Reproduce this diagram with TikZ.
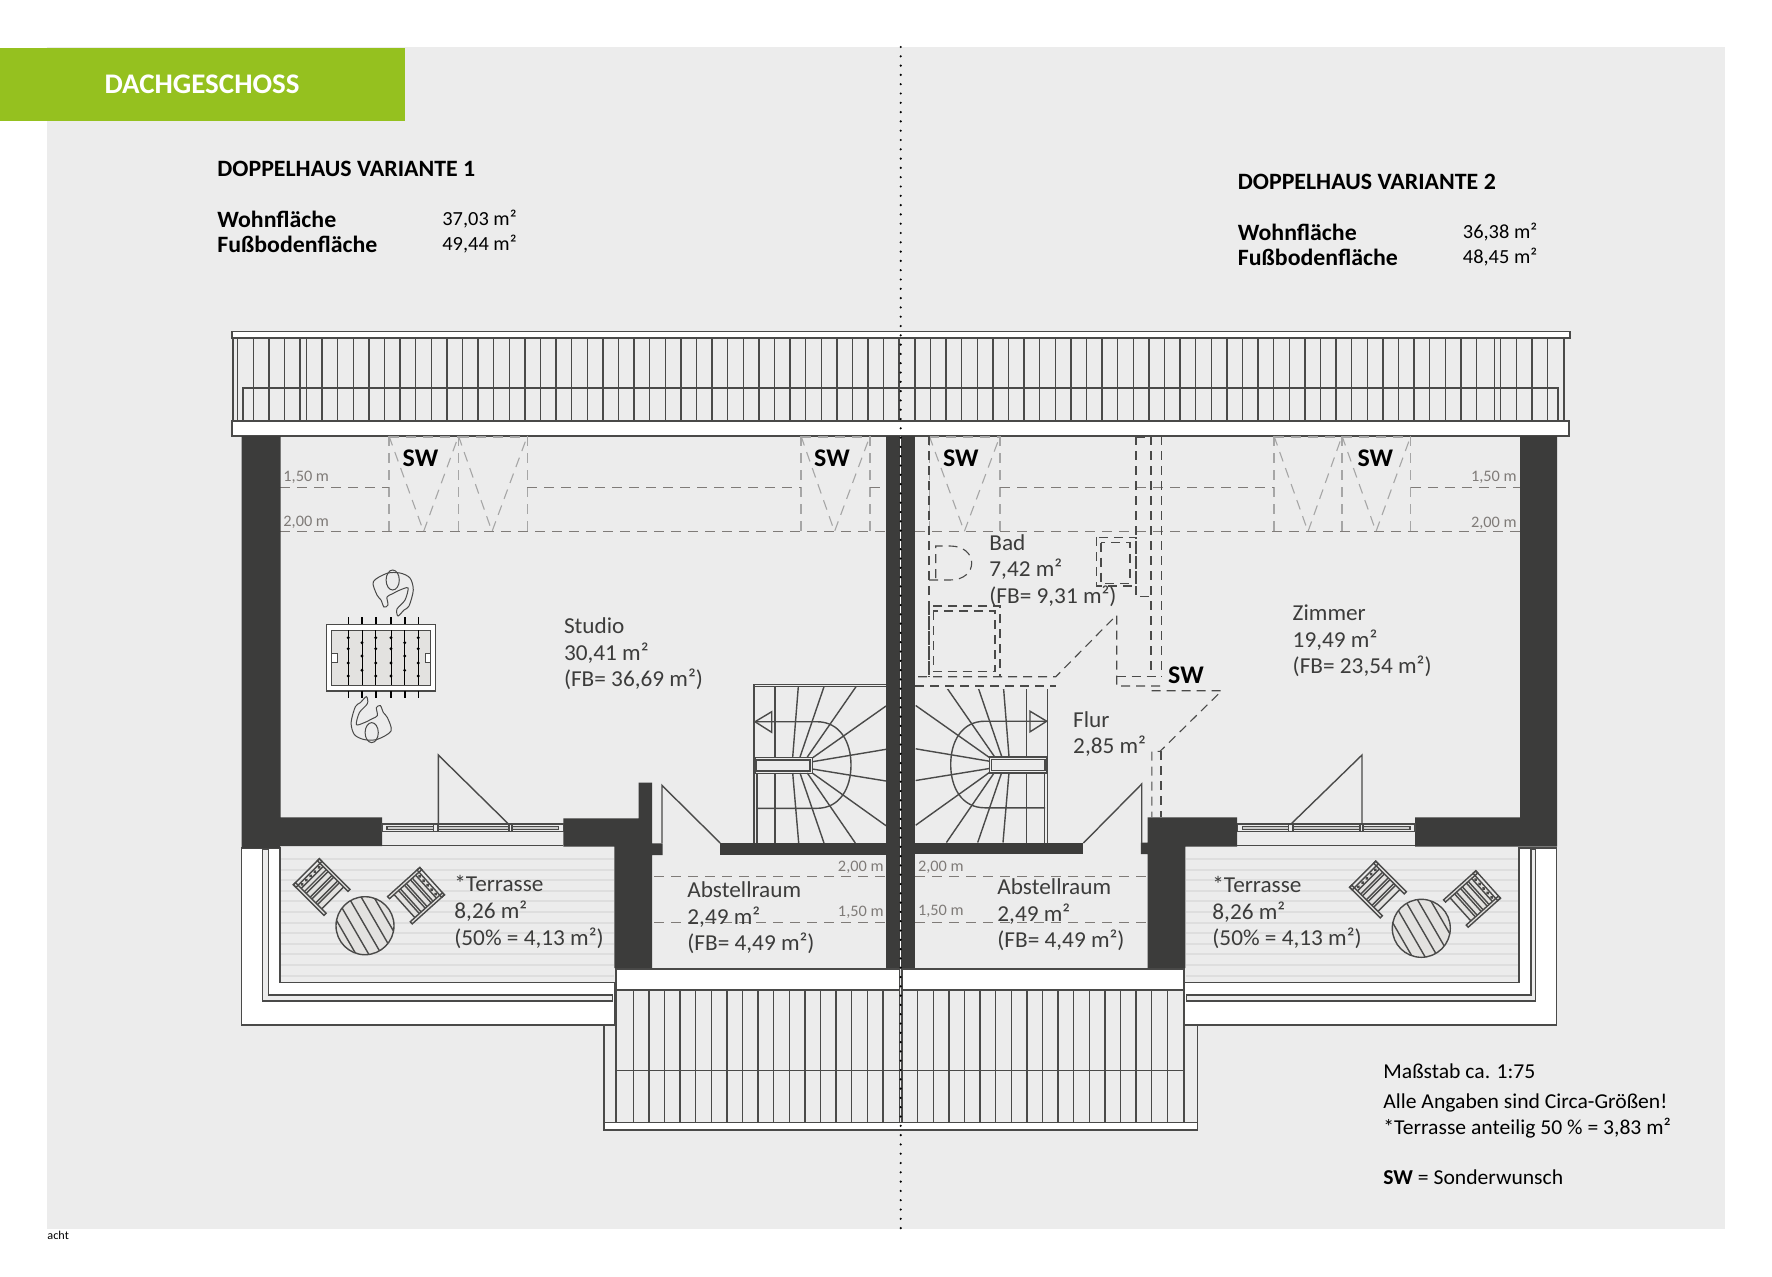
\documentclass[tikz,border=0pt]{standalone}
\usepackage{fontspec}
\setmainfont[FakeStretch=1.02]{Carlito}
\definecolor{pagegray}{HTML}{ECECEC}
\definecolor{wallgray}{HTML}{3C3C3B}
\definecolor{linegray}{HTML}{4A4A49}
\definecolor{dashgray}{HTML}{7F7B78}
\definecolor{softgray}{HTML}{A6A6A6}
\definecolor{floorgray}{HTML}{DEDEDE}
\definecolor{tablegray}{HTML}{E3E2E0}
\definecolor{bannergreen}{HTML}{95C11F}
\tikzset{
  wall/.style={fill=wallgray,draw=none},
  plan/.style={draw=linegray,line width=0.7pt},
  planwhite/.style={plan,fill=white},
  dashedline/.style={draw=dashgray,line width=0.55pt,dash pattern=on 5pt off 3.5pt},
  softdash/.style={draw=softgray,line width=0.55pt,dash pattern=on 5pt off 3.5pt},
  bathdash/.style={draw=linegray,line width=0.55pt,dash pattern=on 4.5pt off 3pt},
  roomlbl/.style={anchor=west,align=left,inner sep=0pt,text=wallgray,font=\fontsize{11.4}{13.3}\selectfont},
  heightlbl/.style={inner sep=0pt,text=dashgray,font=\fontsize{8}{9}\selectfont},
  swlbl/.style={inner sep=0pt,text=black,font=\fontsize{12.7}{14}\selectfont\bfseries},
  headlbl/.style={anchor=west,inner sep=0pt,text=black,font=\fontsize{11.7}{13}\selectfont\bfseries},
  valuelbl/.style={anchor=west,inner sep=0pt,text=black,font=\fontsize{10}{13}\selectfont},
  notelbl/.style={anchor=west,inner sep=0pt,text=black,font=\fontsize{10.6}{13}\selectfont},
}
% one half of the winding stair, drawn for the left house
\newcommand{\windingstair}{
  \draw[plan] (754,843) -- (754,684.3) -- (886,684.3);
  \draw[plan] (754,686.7) -- (886,686.7);
  \draw[plan] (757,773) -- (757,843);
  \foreach \xa/\ya/\xb/\yb in {775/686.7/775/757, 775/773/775/843,
    798.3/686.7/792.7/757, 824/686.7/800/757, 856/686.7/807.3/757,
    886/706/812.3/758, 886/749.3/812.3/761.7, 886/781/812.3/769, 886/825.7/812.3/773,
    855.3/843/807.3/773, 824/843/800/773, 798.7/843/792.7/773}
    \draw[plan] (\xa,\ya) -- (\xb,\yb);
  \draw[plan] (755,757.3) rectangle (812.3,773.3);
  \draw[plan] (756.7,760) rectangle (810,771);
  \draw[plan] (771.7,711.7) -- (755,721.7) -- (771.7,732.3) -- cycle;
  \draw[plan] (755,721.7) -- (816.7,721.7) .. controls (840,721.7) and (851,742) .. (851,765)
    .. controls (851,788) and (840,808.3) .. (816.7,808.3) -- (756.7,808.3);
}
% garden chair, seen from above, back at the top
\newcommand{\gardenchair}[3]{
  \begin{scope}[shift={(#1,#2)},rotate=#3]
    \fill[tablegray] (-16,-19) rectangle (16,16);
    \draw[plan,fill=tablegray] (-18.4,-21.7) rectangle (-15.5,21.7);
    \draw[plan,fill=tablegray] (15.5,-21.7) rectangle (18.4,21.7);
    \draw[plan] (-18.4,-21.7) rectangle (18.4,-18);
    \draw[plan] (-15.5,-13.5) -- (15.5,-13.5);
    \foreach \xd in {-12,-6,0,6,12}
      \fill[linegray] (\xd,-15.7) circle [radius=0.9pt];
    \foreach \ys in {-9,-1,7}{
      \draw[plan] (-15.5,\ys) -- (15.5,\ys);
      \draw[plan] (-15.5,\ys+2.5) -- (15.5,\ys+2.5);
    }
    \draw[plan] (-15.5,15.5) -- (15.5,15.5);
  \end{scope}
}
\newcommand{\player}{
  \draw[plan,line width=0.5pt] plot[smooth cycle] coordinates {(373.3,581.7) (387,573.3) (400,573) (410,578) (413.3,590) (409,606) (404,610) (398,616) (397,609) (405,600) (408,588) (400,590) (392,594) (387,597) (388,605) (384,607) (381,600) (377,595)};
  \draw[plan,line width=0.5pt] (392.7,580) ellipse [x radius=3.3pt,y radius=5pt];
}
\begin{document}
\begin{tikzpicture}[x=0.5pt,y=-0.5pt]
\useasboundingbox (0,0) rectangle (1772,1276);

\fill[pagegray] (47,47) rectangle (1725,1229);
\fill[bannergreen] (0,48) rectangle (405,121);
\node[inner sep=0pt,text=white,font=\fontsize{14.2}{15}\selectfont\bfseries] (banner) at (202,84) {DACHGESCHOSS};

\node[headlbl] (titlea) at (217,169) {DOPPELHAUS VARIANTE 1};
\node[headlbl] (wohna) at (217,219.5) {Wohnfläche};
\node[headlbl] (fussa) at (217,244) {Fußbodenfläche};
\node[valuelbl] (wertwa) at (442,219.5) {37,03 m²};
\node[valuelbl] (wertfa) at (442,244) {49,44 m²};
\node[headlbl] (titleb) at (1237.5,182) {DOPPELHAUS VARIANTE 2};
\node[headlbl] (wohnb) at (1237.5,232.5) {Wohnfläche};
\node[headlbl] (fussb) at (1237.5,257) {Fußbodenfläche};
\node[valuelbl] (wertwb) at (1462.5,232.5) {36,38 m²};
\node[valuelbl] (wertfb) at (1462.5,257) {48,45 m²};

% upper roof
\draw[planwhite] (232,331.4) rectangle (1570,337.9);
\draw[plan] (233,337.9) -- (233,421);
\draw[plan] (1564,337.9) -- (1564,421);
\foreach \x in {237.6,253.2,268.8,284.4,300,306.5}
  \draw[plan] (\x,337.9) -- (\x,421);
\foreach \k in {0,...,36}
  \draw[plan] ({322.1+15.6*\k},337.9) -- ({322.1+15.6*\k},421);
\foreach \k in {0,...,36}
  \draw[plan] ({914.9+15.6*\k},337.9) -- ({914.9+15.6*\k},421);
\foreach \x in {899,1494.3,1500.7,1516.4,1532,1547.6}
  \draw[plan] (\x,337.9) -- (\x,421);
\draw[plan] (243,421) -- (243,387.9) -- (1558,387.9) -- (1558,421);
\draw[planwhite] (232,421) rectangle (1569,436);

% windows in the roof
\foreach \xa/\xb/\xc in {389/423.6/458.5, 458.5/492/527.4, 801/834.5/870, 929.3/964.3/1000, 1274/1308/1342, 1342/1376/1410.8}{
  \draw[softdash] (\xa,436) -- (\xb,531.5) -- (\xc,436);
  \draw[softdash] (\xa,436) -- (\xa,531.5);
  \draw[softdash] (\xc,436) -- (\xc,531.5);
  \draw[softdash] (\xa,437) -- (\xc,437);
}

% heights
\draw[dashedline] (280,487.8) -- (389,487.8);
\draw[dashedline] (527.4,487.8) -- (801,487.8);
\draw[dashedline] (870,487.8) -- (886,487.8);
\draw[dashedline] (1000,487.8) -- (1274,487.8);
\draw[dashedline] (1410.8,487.8) -- (1520,487.8);
\draw[dashedline] (280,531.5) -- (886,531.5);
\draw[dashedline] (915,531.7) -- (1520,531.7);
\draw[dashedline] (654,876.7) -- (886,876.7);
\draw[dashedline] (654,922.7) -- (886,922.7);
\draw[dashedline] (915,876.7) -- (1146,876.7);
\draw[dashedline] (915,922.7) -- (1146,922.7);

% terraces
\draw[planwhite] (241.6,848) -- (280,848) -- (280,982.7) -- (614.4,982.7) -- (614.4,1025) -- (241.6,1025) -- cycle;
\draw[planwhite] (1184,982.7) -- (1519,982.7) -- (1519,848) -- (1556.3,848) -- (1556.3,1025) -- (1184,1025) -- cycle;
\foreach \k in {0,...,11}{
  \draw[floorgray,line width=1pt] (280.5,{859+10.6*\k}) -- (614,{859+10.6*\k});
  \draw[floorgray,line width=1pt] (1185.5,{859+10.6*\k}) -- (1518.5,{859+10.6*\k});
}
\draw[plan] (280,846.7) -- (280,982.7) -- (614.4,982.7);
\draw[plan] (1185.3,982.7) -- (1519,982.7) -- (1519,846.7);
\draw[plan,fill=pagegray] (262.7,849.3) -- (268.2,849.3) -- (268.2,995) -- (612.6,995) -- (612.6,1001) -- (262.7,1001) -- cycle;
\draw[plan,fill=pagegray] (1531,849.3) -- (1535.6,849.3) -- (1535.6,1001) -- (1186.7,1001) -- (1186.7,995) -- (1531,995) -- cycle;

% furniture on the terraces
\gardenchair{321.7}{887}{45}
\gardenchair{416}{895.7}{-48}
\gardenchair{1378}{889.5}{45}
\gardenchair{1472}{899}{-48}
\foreach \cx/\cy in {365/925.7, 1421.3/928.3}{
  \begin{scope}
    \clip (\cx,\cy) circle [radius=14.5pt];
    \fill[tablegray] (\cx,\cy) circle [radius=14.5pt];
    \begin{scope}[shift={(\cx,\cy)},rotate=30]
      \foreach \k in {-22,-11,0,11,22}
        \draw[plan] (\k,-32) -- (\k,32);
    \end{scope}
  \end{scope}
  \draw[plan] (\cx,\cy) circle [radius=14.5pt];
}

% lower roof
\draw[plan] (603.8,1025) -- (603.8,1130) -- (1197.7,1130) -- (1197.7,1025);
\draw[planwhite] (603.8,1122.7) rectangle (1197.7,1130);
\draw[planwhite] (615.8,969) rectangle (899.5,990);
\draw[planwhite] (902,969) rectangle (1184,990);
\draw[plan] (615.8,1070.7) -- (1184,1070.7);
\foreach \x in {615.8,899.5,902,1184}
  \draw[plan] (\x,990) -- (\x,1122.7);
\foreach \k in {0,...,16}
  \draw[plan] ({633.2+15.6*\k},990) -- ({633.2+15.6*\k},1122.7);
\foreach \k in {0,...,16}
  \draw[plan] ({917.6+15.6*\k},990) -- ({917.6+15.6*\k},1122.7);

% stairs
\windingstair
\begin{scope}[shift={(1801.7,-0.5)},xscale=-1]
  \windingstair
\end{scope}
\fill[pagegray] (915,680) rectangle (1050,689);

% walls
\path[wall] (241.6,436) -- (280.5,436) -- (280.5,817.3) -- (382,817.3) -- (382,846) -- (280,846) -- (280,848.3) -- (241.6,848.3) -- cycle;
\path[wall] (563.4,818.3) -- (638.7,818.3) -- (638.7,782.5) -- (652.2,782.5) -- (652.2,843.3) -- (662.6,843.3) -- (662.6,855) -- (652.2,855) -- (652.2,968) -- (614.4,968) -- (614.4,846.7) -- (563.4,846.7) -- cycle;
\path[wall] (719.5,843.3) rectangle (886,855);
\path[wall] (886,436) rectangle (915,968);
\path[wall] (915,842.7) rectangle (1083.4,854);
\path[wall] (1147.7,817.3) -- (1237.2,817.3) -- (1237.2,846.7) -- (1185.3,846.7) -- (1185.3,968) -- (1147.7,968) -- (1147.7,854) -- (1140.8,854) -- (1140.8,842.7) -- (1147.7,842.7) -- cycle;
\path[wall] (1415,817.3) -- (1520,817.3) -- (1520,436) -- (1557.2,436) -- (1557.2,846.7) -- (1415,846.7) -- cycle;

% terrace windows and doors
\foreach \xa/\xb/\xc/\xd/\xe/\xf in {382/563.4/433.5/438/509/512, 1237.2/1415/1288.6/1293/1359.8/1363}{
  \draw[plan,fill=pagegray] (\xa,824) rectangle (\xb,831.7);
  \draw[plan,fill=softgray!60] (\xa+5,826.5) rectangle (\xb-5,829.2);
  \draw[plan,fill=pagegray] (\xc,824) rectangle (\xd,831.7);
  \draw[plan,fill=pagegray] (\xe,824) rectangle (\xf,831.7);
  \draw[plan] (\xa,845.3) -- (\xb,845.3);
}
\draw[plan] (438.3,824) -- (438.3,755) -- (508.5,824);
\draw[plan] (1362,824) -- (1362,755) -- (1291,824);
\draw[plan] (662,843) -- (662,785.4) -- (720.2,843);
\draw[plan] (1141.7,843) -- (1141.7,784) -- (1083.4,843);

% bath and corridor under the roof
\draw[bathdash] (915,686) -- (1056,686);
\draw[bathdash] (929,436) -- (929,676.7);
\draw[bathdash] (918,676.7) -- (1055.8,676.7) -- (1116.7,615) -- (1116.7,686) -- (1160,686);
\draw[bathdash] (1116.7,676.7) -- (1161.7,676.7);
\draw[bathdash] (1136,436) -- (1136,596.7) -- (1151,596.7);
\draw[bathdash] (1136,437) -- (1151,437);
\draw[bathdash] (1151,436) -- (1151,676.7);
\draw[bathdash] (1161.7,436) -- (1161.7,676.7);
\draw[bathdash] (1151.7,690.7) -- (1221.7,690.7) -- (1160,751.4) -- (1151.8,751.4) -- (1151.8,817);
\draw[bathdash] (1161,751.4) -- (1161,817);
\draw[bathdash] (929,580) -- (950,580) .. controls (964,580) and (971.7,572) .. (971.7,563) .. controls (971.7,554) and (964,546) .. (950,546) -- (935.7,546) -- (935.7,580);
\draw[bathdash] (1096.7,537.3) rectangle (1136,586);
\draw[bathdash] (1101,542.7) rectangle (1130,583.3);
\draw[bathdash] (929,606) rectangle (1000,676.7);
\draw[bathdash] (933.3,611) rectangle (995,671.7);

% table football
\draw[plan,fill=white] (326.7,624.3) rectangle (435.7,691);
\draw[plan,fill=tablegray] (331.3,630.3) rectangle (430.7,685.3);
\draw[plan,fill=white,line width=0.5pt] (331.3,653.3) rectangle (337.7,662.7);
\draw[plan,fill=white,line width=0.5pt] (425.7,653.3) rectangle (430.7,662.7);
\foreach \x/\rows in {348.3/1,362/2,375.7/1,391/1,404.7/2,418.3/1}{
  \draw[black,line width=0.4pt] (\x,630) -- (\x,685);
  \draw[black,line width=0.8pt] (\x,617) -- (\x,624);
  \draw[black,line width=0.8pt] (\x,691) -- (\x,698);
  \ifnum\rows=1
    \foreach \y in {637.7,648.7,663,676}
      \fill[black] (\x,\y) circle [radius=0.8pt];
  \else
    \foreach \y in {642.7,656,670.3}
      \fill[black] (\x,\y) circle [radius=0.8pt];
  \fi
}
\player
\begin{scope}[shift={(382.2,656.3)},rotate=180,shift={(-382.2,-656.3)}]
  \player
\end{scope}

% party wall line
\draw[white,line width=0.5pt] (900.7,436) -- (900.7,968);
\draw[black,line width=1.2pt,line cap=round,dash pattern=on 0pt off 4.65pt] (900.7,47) -- (900.7,1229);

% room labels
\node[roomlbl] (studio) at (563.6,654) {Studio\\30,41 m²\\(FB= 36,69 m²)};
\node[roomlbl] (bad) at (989,570.5) {Bad\\7,42 m²\\(FB= 9,31 m²)};
\node[roomlbl] (zimmer) at (1292.3,641) {Zimmer\\19,49 m²\\(FB= 23,54 m²)};
\node[roomlbl] (flur) at (1072.8,734) {Flur\\2,85 m²};
\node[roomlbl] (abstella) at (687,918) {Abstellraum\\2,49 m²\\(FB= 4,49 m²)};
\node[roomlbl] (abstellb) at (997,915) {Abstellraum\\2,49 m²\\(FB= 4,49 m²)};
\node[roomlbl] (terrassea) at (454,912) {*Terrasse\\8,26 m²\\(50\% = 4,13 m²)};
\node[roomlbl] (terrasseb) at (1212,912.5) {*Terrasse\\8,26 m²\\(50\% = 4,13 m²)};

\node[swlbl] (swa) at (420.5,458.5) {SW};
\node[swlbl] (swb) at (832,458.5) {SW};
\node[swlbl] (swc) at (960.8,458.5) {SW};
\node[swlbl] (swd) at (1375.4,458.5) {SW};
\node[swlbl] (swe) at (1186,675) {SW};

\node[heightlbl,anchor=west] (hla) at (283,477) {1,50 m};
\node[heightlbl,anchor=west] (hlb) at (283,522) {2,00 m};
\node[heightlbl,anchor=east] (hra) at (1517,477.5) {1,50 m};
\node[heightlbl,anchor=east] (hrb) at (1517,523) {2,00 m};
\node[heightlbl,anchor=east] (hma) at (884,867) {2,00 m};
\node[heightlbl,anchor=east] (hmb) at (884,912) {1,50 m};
\node[heightlbl,anchor=west] (hmc) at (917.6,867) {2,00 m};
\node[heightlbl,anchor=west] (hmd) at (917.6,911.5) {1,50 m};

\node[notelbl] (massstab) at (1383,1071) {Maßstab ca. 1:75};
\node[notelbl] (angaben) at (1383,1103) {Alle Angaben sind Circa-Größen!};
\node[notelbl] (anteil) at (1383,1128) {*Terrasse anteilig 50 \% = 3,83 m²};
\node[notelbl] (sonder) at (1383,1177) {\textbf{SW} = Sonderwunsch};
\node[anchor=west,inner sep=0pt,font=\fontsize{6}{7}\selectfont] (seite) at (47,1235) {acht};
\end{tikzpicture}
\end{document}
